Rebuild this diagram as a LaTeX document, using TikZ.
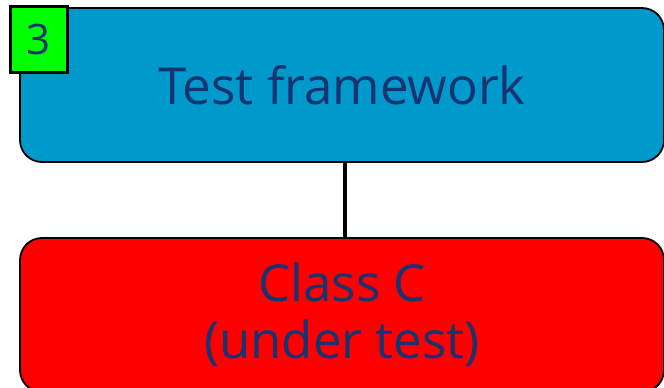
\documentclass[tikz,border=0pt]{standalone}
\usepackage{fontspec}
\setmainfont{Open Sans}
\definecolor{boxblue}{RGB}{0,153,204}
\definecolor{txtblue}{RGB}{22,52,112}
\definecolor{tagGreen}{RGB}{0,255,0}
\tikzset{
  bigbox/.style={draw=black, line width=1.8pt, rounded corners=22pt, minimum width=644pt, minimum height=154pt, inner sep=0pt, text=txtblue, align=center, font=\fontsize{51}{57}\selectfont},
  tag/.style={draw=black, line width=3pt, fill=tagGreen, minimum width=57pt, minimum height=66pt, inner sep=0pt, text=txtblue, font=\fontsize{42}{48}\selectfont},
  link/.style={draw=black, line width=4pt}
}
\begin{document}
\begin{tikzpicture}[x=1pt,y=-1pt]
\useasboundingbox (0,0) rectangle (664,388);
\begin{scope}
\clip (0,0) rectangle (664,388);
\node[bigbox, fill=boxblue] (fw) at (342,85) {Test framework};
\node[bigbox, fill=red] (cc) at (342,315) {Class C\\(under test)};
\draw[link] ([xshift=3pt]fw.south) -- ([xshift=3pt]cc.north);
\node[tag] (num) at (38.5,39.5) {3};
\end{scope}
\end{tikzpicture}
\end{document}
